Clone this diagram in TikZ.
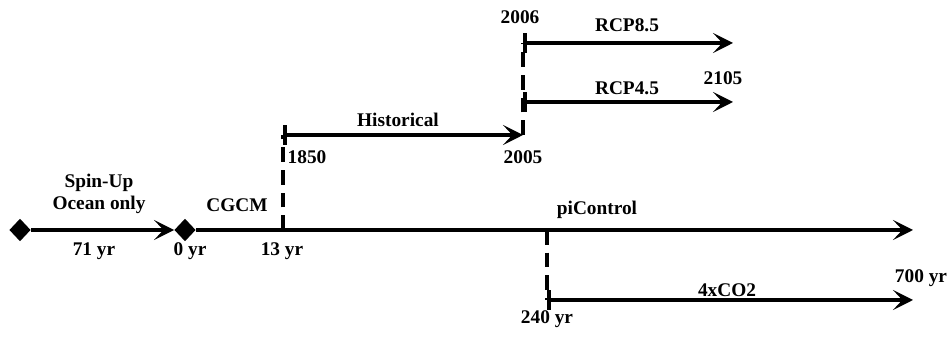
\documentclass[tikz,border=0pt]{standalone}
\usepackage{fontspec}
\setmainfont{Liberation Serif}
\usetikzlibrary{arrows.meta,positioning,shapes.geometric}

\begin{document}
\begin{tikzpicture}[x=0.75pt,y=-0.75pt,
    run/.style={line width=3pt,-{Stealth[length=15pt,width=15pt,inset=7pt]}},
    branch/.style={line width=3pt,
                   {Bar[width=15pt]}-{Stealth[length=15pt,width=15pt,inset=7pt]}},
    dsh/.style={line width=3pt,dash pattern=on 11pt off 6pt},
    lbl/.style={font=\fontsize{14.5}{16.5}\selectfont\bfseries,inner sep=0pt},
    dmd/.style={diamond,fill=black,inner sep=0pt,
                minimum width=16pt,minimum height=17pt}]

    \useasboundingbox (0,0) rectangle (951,338);

    % Spin-Up
    \node[dmd] (s0) at (20,230) {};
    \node[dmd] (c0) at (185,230) {};
    \draw[run] (s0) -- (c0);
    \node[lbl,align=center] (spin) at (99,194) {Spin-Up\\Ocean only};
    \node[lbl] (t71) at (94,251) {71 yr};
    \node[lbl] (t0) at (190,251) {0 yr};

    % CGCM / piControl
    \coordinate (pe) at (913,230);
    \draw[run] (c0) -- (pe);
    \node[lbl] (cgcm) at (237,205) {CGCM};
    \node[lbl] (pic) at (597,210) {piControl};
    \node[lbl] (t700) at (921,278) {700 yr};

    % Historical
    \coordinate (m13) at (283,230);
    \coordinate (h0) at (283,135);
    \coordinate (h1) at (523,135);
    \draw[dsh] (m13) -- (h0);
    \draw[branch] (h0) -- (h1);
    \node[lbl] (t13) at (282,251) {13 yr};
    \node[lbl] (y1850) at (307,157) {1850};
    \node[lbl] (hist) at (398,120) {Historical};
    \node[lbl] (y2005) at (523,157) {2005};

    % RCP
    \coordinate (r8s) at (523,43);
    \coordinate (r8e) at (733,43);
    \coordinate (r4s) at (523,102);
    \coordinate (r4e) at (733,102);
    \draw[dsh] (h1) -- (r8s);
    \draw[branch] (r8s) -- (r8e);
    \draw[branch] (r4s) -- (r4e);
    \node[lbl] (y2006) at (520,17) {2006};
    \node[lbl] (rcp8) at (627,25) {RCP8.5};
    \node[lbl] (y2105) at (723,78) {2105};
    \node[lbl] (rcp4) at (627,88) {RCP4.5};

    % 4xCO2
    \coordinate (m240) at (547,230);
    \coordinate (c4s) at (547,300);
    \coordinate (c4e) at (913,300);
    \draw[dsh] (m240) -- (c4s);
    \draw[branch] (c4s) -- (c4e);
    \node[lbl] (co2) at (727,290) {4xCO2};
    \node[lbl] (t240) at (547,319) {240 yr};
\end{tikzpicture}
\end{document}
